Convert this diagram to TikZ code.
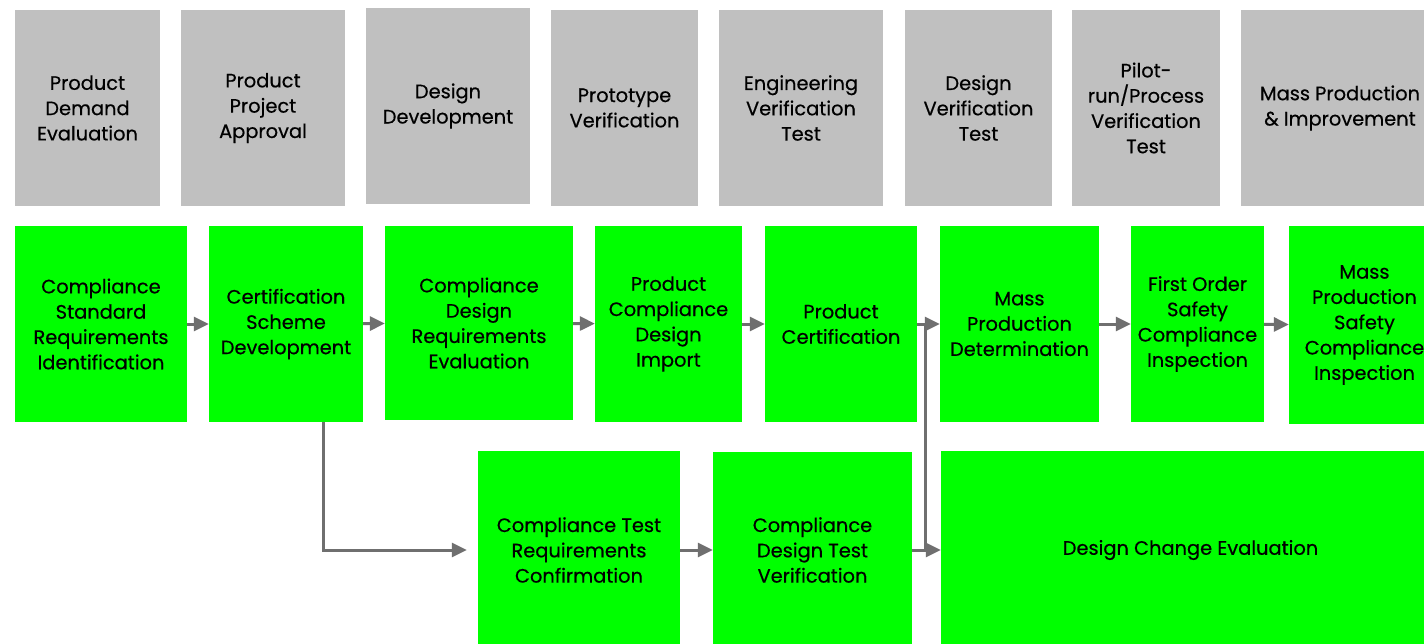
\documentclass[tikz,border=0pt]{standalone}
\usepackage{fontspec}
\setmainfont{Poppins}[FakeBold=0.5]
\usetikzlibrary{arrows.meta}
\definecolor{phasegray}{HTML}{C0C0C0}
\definecolor{taskgreen}{HTML}{00FF00}
\definecolor{linkgray}{HTML}{6F6F6F}
\begin{document}
\begin{tikzpicture}[x=1pt,y=-1pt,
  box/.style={rectangle, inner sep=0pt, align=center, text=black,
    font=\fontsize{19.4}{25.3}\selectfont},
  phase/.style={box, fill=phasegray},
  task/.style={box, fill=taskgreen},
  link/.style={draw=linkgray, line width=3pt},
  flow/.style={link, -{Triangle[length=15pt,width=14pt]}}]
\useasboundingbox (0,0) rectangle (1424,643);
\fill[white] (0,0) rectangle (1424,643);

% lifecycle phases
\node[phase, minimum width=145pt, minimum height=196pt] (p1) at (87.5,108) {Product\\Demand\\Evaluation};
\node[phase, minimum width=164pt, minimum height=196pt] (p2) at (263,108) {Product\\Project\\Approval};
\node[phase, minimum width=164pt, minimum height=196pt] (p3) at (448,106) {Design\\Development};
\node[phase, minimum width=147pt, minimum height=196pt] (p4) at (624.5,108) {Prototype\\Verification};
\node[phase, minimum width=164pt, minimum height=196pt] (p5) at (801,108) {Engineering\\Verification\\Test};
\node[phase, minimum width=147pt, minimum height=196pt] (p6) at (978.5,108) {Design\\Verification\\Test};
\node[phase, minimum width=148pt, minimum height=196pt] (p7) at (1146,108) {Pilot-\\run/Process\\Verification\\Test};
\node[phase, minimum width=198pt, minimum height=196pt] (p8) at (1340,108) {Mass Production\\\& Improvement};

% compliance activities
\node[task, minimum width=172pt, minimum height=196pt] (t1) at (101,324) {Compliance\\Standard\\Requirements\\Identification};
\node[task, minimum width=154pt, minimum height=196pt] (t2) at (286,324) {Certification\\Scheme\\Development};
\node[task, minimum width=188pt, minimum height=194pt] (t3) at (479,323) {Compliance\\Design\\Requirements\\Evaluation};
\node[task, minimum width=147pt, minimum height=196pt] (t4) at (668.5,324) {Product\\Compliance\\Design\\Import};
\node[task, minimum width=152pt, minimum height=196pt] (t5) at (841,324) {Product\\Certification};
\node[task, minimum width=159pt, minimum height=196pt] (t6) at (1019.5,324) {Mass\\Production\\Determination};
\node[task, minimum width=133pt, minimum height=196pt] (t7) at (1197.5,324) {First Order\\Safety\\Compliance\\Inspection};
\node[task, minimum width=151pt, minimum height=198pt] (t8) at (1364.5,325) {Mass\\Production\\Safety\\Compliance\\Inspection};

\node[task, minimum width=202pt, minimum height=198pt] (b1) at (579,550) {Compliance Test\\Requirements\\Confirmation};
\node[task, minimum width=199pt, minimum height=196pt] (b2) at (812.5,550) {Compliance\\Design Test\\Verification};
\node[task, minimum width=499pt, minimum height=198pt] (b3) at (1190.5,550) {Design Change Evaluation};

% connectors
\draw[flow] (t1) -- (t2);
\draw[flow] (t2) -- (t3);
\draw[flow] (t3) -- (t4);
\draw[flow] (t4) -- (t5);
\draw[flow] (t5) -- (t6);
\draw[flow] (t6) -- (t7);
\draw[flow] (t7) -- (t8);
\draw[flow] (b1) -- (b2);
\draw[flow] (b2) -- (b3);

\coordinate (drop) at (323,550);
\draw[flow, shorten >=11pt] (drop |- t2.south) -- (drop) -- (b1.west);

\coordinate (rail) at (925,0);
\draw[link] (rail |- t5.east) -- (rail |- b2.east);
\end{tikzpicture}
\end{document}
